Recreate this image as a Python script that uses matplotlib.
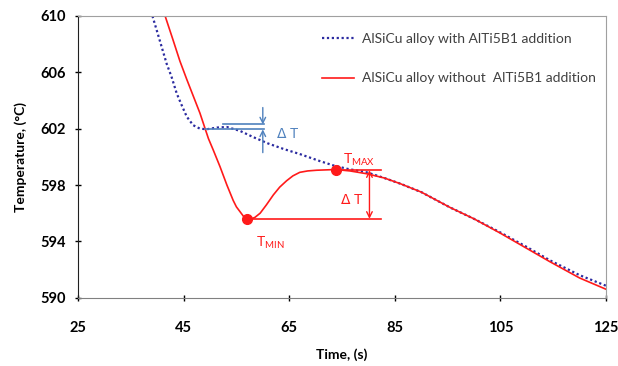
import matplotlib
matplotlib.use('Agg')
import matplotlib.pyplot as plt
import numpy as np

plt.rcParams['font.family'] = ['Lato', 'DejaVu Sans']

# ── Cooling curves ───────────────────────────────────────────────────────────

# AlSiCu alloy with AlTi5B1 addition
t_with = [39.1, 39.9, 40.85, 41.8, 42.7, 43.7, 44.6, 45.6, 46.8, 48.1, 49.4, 51.3, 53.2,
          55.7, 58.2, 61.0, 64.0, 67.0, 70.8, 73.3, 76.0, 79.7, 83.0, 86.0, 90.0,
          95.5, 100.0, 104.9, 110.0, 114.4, 120.0, 125.0]
T_with = [610.0, 609.0, 607.8, 606.6, 605.7, 604.5, 603.7, 602.85, 602.25, 602.0, 601.96, 602.08, 602.12,
          601.84, 601.4, 600.95, 600.55, 600.2, 599.7, 599.4, 599.15, 598.9, 598.5, 598.1, 597.5,
          596.4, 595.6, 594.65, 593.6, 592.65, 591.6, 590.85]

# AlSiCu alloy without AlTi5B1 addition
t_without = [41.5, 43.0, 44.3, 45.6, 48.1, 49.7, 50.6, 51.9, 53.2, 54.4, 55.0, 55.7, 56.4, 57.1,
             57.8, 58.5, 59.5, 60.7, 62.0, 63.2, 64.5, 65.7, 67.0, 68.5, 70.2, 73.8, 76.5,
             79.7, 83.0, 86.0, 90.0, 95.5, 100.0, 104.9, 110.0, 114.4, 120.0, 125.0]
T_without = [610.0, 608.3, 606.8, 605.5, 603.1, 601.3, 600.5, 599.3, 598.0, 596.9, 596.45, 596.1, 595.75, 595.6,
             595.6, 595.7, 596.0, 596.6, 597.3, 597.85, 598.3, 598.65, 598.9, 599.0, 599.05, 599.1, 599.0,
             598.8, 598.5, 598.1, 597.5, 596.4, 595.6, 594.6, 593.5, 592.55, 591.4, 590.6]

# undercooling markers
t_min, T_min = 57.1, 595.6
t_max, T_max = 73.8, 599.05

# plateau of the grain-refined alloy
T_plateau_hi, T_plateau_lo = 602.3, 601.95

x_ticks = [25, 45, 65, 85, 105, 125]
y_ticks = [590, 594, 598, 602, 606, 610]

RED = '#FF1A1A'
NAVY = '#2B2BA0'
STEEL = '#4F81BD'

fig = plt.figure(figsize=(6.18, 3.66), dpi=100)
ax = fig.add_axes([0.1262, 0.1866, 0.8544, 0.7697])

ax.plot(t_with, T_with, ls=(0, (1, 1.2)), color=NAVY, lw=1.6,
        label='AlSiCu alloy with AlTi5B1 addition')
ax.plot(t_without, T_without, '-', color=RED, lw=1.2,
        label='AlSiCu alloy without  AlTi5B1 addition')

# ── ΔT for the alloy without grain refiner ───────────────────────────────────
ax.plot([t_min, 82.4], [T_min, T_min], '-', color=RED, lw=1.2)
ax.plot([t_max, 82.4], [T_max, T_max], '-', color=RED, lw=1.2)
ax.plot([t_min], [T_min], 'o', color=RED, ms=7)
ax.plot([t_max], [T_max], 'o', color=RED, ms=7)
ax.annotate('', xy=(80.2, T_min), xytext=(80.2, T_max),
            arrowprops=dict(arrowstyle='<->', color=RED, lw=1.0, shrinkA=0, shrinkB=0))
ax.text(76.8, 597.0, r'$\Delta$ T', color=RED, fontsize=10, ha='center', va='center')
ax.text(78.3, 599.8, r'T$_\mathregular{MAX}$', color=RED, fontsize=10, ha='center', va='center')
ax.text(61.5, 593.9, r'T$_\mathregular{MIN}$', color=RED, fontsize=10, ha='center', va='center')

# ── ΔT for the refined alloy ─────────────────────────────────────────────────
ax.plot([52.5, 60.3], [T_plateau_hi, T_plateau_hi], '-', color=STEEL, lw=1.2)
ax.plot([49.0, 60.3], [T_plateau_lo, T_plateau_lo], '-', color=STEEL, lw=1.2)
ax.annotate('', xy=(60.0, T_plateau_hi), xytext=(60.0, 603.5),
            arrowprops=dict(arrowstyle='->', color=STEEL, lw=1.0, shrinkA=0, shrinkB=0))
ax.annotate('', xy=(60.0, T_plateau_lo), xytext=(60.0, 600.3),
            arrowprops=dict(arrowstyle='->', color=STEEL, lw=1.0, shrinkA=0, shrinkB=0))
ax.text(64.6, 601.7, r'$\Delta$ T', color=STEEL, fontsize=10, ha='center', va='center')

ax.set_xlim(25, 125)
ax.set_ylim(590, 610)
ax.set_xticks(x_ticks)
ax.set_yticks(y_ticks)
ax.tick_params(direction='inout', length=5, width=1, labelsize=10.5, pad=14)
ax.tick_params(axis='y', pad=6)
for lab in ax.get_xticklabels() + ax.get_yticklabels():
  lab.set_fontweight('bold')

for side in ('top', 'right'):
  ax.spines[side].set_color('#A0A0A0')
ax.spines['left'].set_color('#202020')
ax.spines['bottom'].set_color('#808080')

ax.set_xlabel('Time, (s)', fontsize=10, fontweight='bold', labelpad=10)
ax.set_ylabel('Temperature, (°C)', fontsize=10, fontweight='bold', labelpad=10)

ax.legend(loc='upper right', bbox_to_anchor=(1.005, 0.985), frameon=False, fontsize=10,
          handlelength=2.3, handletextpad=0.6, labelspacing=2.0, labelcolor='#404040')

fig.savefig('out.png', dpi=100)
